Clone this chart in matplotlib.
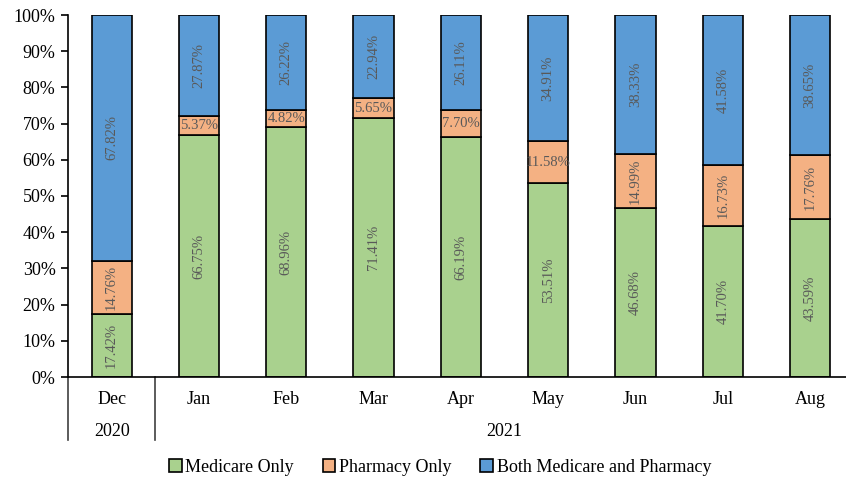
import matplotlib.pyplot as plt
import matplotlib.transforms as mtransforms
import numpy as np

plt.rcParams['font.family'] = ['Liberation Serif', 'DejaVu Serif']

months = ["Dec", "Jan", "Feb", "Mar", "Apr", "May", "Jun", "Jul", "Aug"]
years = ["2020", "2021"]
medicare_only = [17.42, 66.75, 68.96, 71.41, 66.19, 53.51, 46.68, 41.70, 43.59]
pharmacy_only = [14.76, 5.37, 4.82, 5.65, 7.70, 11.58, 14.99, 16.73, 17.76]
both = [67.82, 27.87, 26.22, 22.94, 26.11, 34.91, 38.33, 41.58, 38.65]
series_names = ["Medicare Only", "Pharmacy Only", "Both Medicare and Pharmacy"]
colors = ["#A9D18E", "#F4B183", "#5B9BD5"]

fig = plt.figure(figsize=(8.46, 4.8), dpi=100)
ax = fig.add_axes([68 / 846, 1 - 377 / 480, 1 - 68 / 846, (377 - 15) / 480])

x = np.arange(len(months))
width = 0.46
bottom = np.zeros(len(months))
for vals, name, col in zip([medicare_only, pharmacy_only, both], series_names, colors):
    vals = np.array(vals)
    ax.bar(x, vals / 100, width, bottom=bottom / 100, color=col,
           edgecolor="black", linewidth=1.2, label=name)
    for xi, v, b in zip(x, vals, bottom):
        rot = 90 if v > 12 else 0
        ax.text(xi, (b + v / 2) / 100, f"{v:.2f}%", rotation=rot,
                ha="center", va="center", fontsize=10.5, color="#595959")
    bottom = bottom + vals

ax.set_ylim(0, 1)
ax.set_xlim(-0.5, -0.5 + 778 / 87.3)
ax.set_yticks(np.arange(0, 1.01, 0.1))
ax.set_yticklabels([f"{int(round(t * 100))}%" for t in np.arange(0, 1.01, 0.1)], fontsize=13)
ax.tick_params(axis="y", direction="out", length=5, width=1.2, pad=4)
ax.set_xticks([])
for s in ["top", "right"]:
    ax.spines[s].set_visible(False)
ax.spines["left"].set_linewidth(1.2)
ax.spines["bottom"].set_linewidth(1.2)

# two-level category axis
trans = mtransforms.blended_transform_factory(ax.transData, ax.transAxes)
for sep in [-0.5, 0.5]:
    ax.plot([sep, sep], [0, -63 / 362], color="#404040", linewidth=1.2,
            transform=trans, clip_on=False)
for xi, m in zip(x, months):
    ax.text(xi, -22 / 362, m, transform=trans, ha="center", va="center", fontsize=13)
ax.text(0, -54 / 362, years[0], transform=trans, ha="center", va="center", fontsize=13)
ax.text(4.5, -54 / 362, years[1], transform=trans, ha="center", va="center", fontsize=13)

fig.legend(loc="center", bbox_to_anchor=(440 / 846, 1 - 467 / 480), ncol=3,
           frameon=False, fontsize=13, handlelength=0.7, handleheight=0.7,
           handletextpad=0.2, columnspacing=1.6)

fig.savefig("out.png", dpi=100)
